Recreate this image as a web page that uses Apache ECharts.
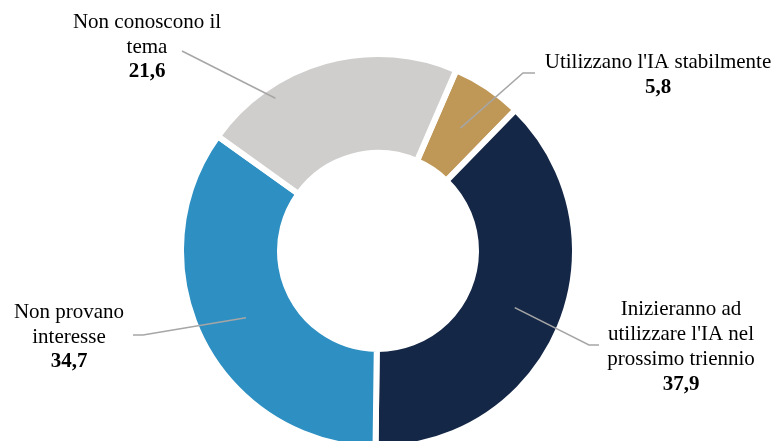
<!DOCTYPE html>
<html><head><meta charset="utf-8">
<script src="https://cdn.jsdelivr.net/npm/echarts@6/dist/echarts.min.js"></script>
<style>html,body{margin:0;padding:0;background:#fff}#c{width:776px;height:441px}</style>
</head><body><div id="c"></div>
<script>
// ---- data ----
const categories = ["Utilizzano l'IA stabilmente", "Inizieranno ad utilizzare l'IA nel prossimo triennio", "Non provano interesse", "Non conoscono il tema"];
const labelText = [["Utilizzano l'IA stabilmente"], ["Inizieranno ad", "utilizzare l'IA nel", "prossimo triennio"], ["Non provano", "interesse"], ["Non conoscono il", "tema"]];
const values = [5.8, 37.9, 34.7, 21.6];
const colors = ['#BF9858', '#152746', '#2D8FC2', '#CFCECC'];

// ---- layout ----
const CENTER = [378, 251];
const START = 66.6;
// label block centre, leader end offset from it, horizontal elbow, anchor radius & angle shift
const labelPlace = [
  {x: 658, y: 75, ex: -123, ey: -2, elbow: 12, ar: 148, ad: 0},
  {x: 681, y: 347, ex: -82, ey: -2, elbow: 10, ar: 148, ad: 0},
  {x: 69, y: 337, ex: 64, ey: -2, elbow: -10, ar: 148, ad: 0},
  {x: 147, y: 47, ex: 35, ey: 4, elbow: 0, ar: 184, ad: 18.4}
];

const total = values.reduce((a, b) => a + b, 0);
function anchorOf(i) {
  let cum = 0;
  for (let k = 0; k < i; k++) cum += values[k];
  const L = labelPlace[i];
  const deg = START - (cum + values[i] / 2) / total * 360 + L.ad;
  const rad = deg * Math.PI / 180;
  return [CENTER[0] + L.ar * Math.cos(rad), CENTER[1] - L.ar * Math.sin(rad)];
}

const pieData = categories.map((c, i) => ({name: c, value: values[i], itemStyle: {color: colors[i]}}));
const labelData = categories.map((c, i) => ({name: c, value: values[i]}));

const FONT = "'Liberation Serif', 'Times New Roman', serif";
const chart = echarts.init(document.getElementById('c'), null, {renderer: 'canvas'});
chart.setOption({
  animation: false,
  backgroundColor: '#ffffff',
  series: [
    {
      type: 'pie',
      z: 2,
      center: CENTER,
      radius: [98, 197],
      startAngle: START,
      clockwise: true,
      avoidLabelOverlap: false,
      silent: true,
      itemStyle: {borderColor: '#ffffff', borderWidth: 6},
      label: {show: false},
      labelLine: {show: false},
      emphasis: {disabled: true},
      data: pieData
    },
    {
      type: 'pie',
      z: 5,
      center: CENTER,
      radius: [0, 197],
      startAngle: START,
      clockwise: true,
      avoidLabelOverlap: false,
      silent: true,
      itemStyle: {color: 'rgba(0,0,0,0)', borderWidth: 0},
      emphasis: {disabled: true},
      label: {
        show: true,
        position: 'outside',
        color: '#000',
        fontFamily: FONT,
        fontSize: 21,
        formatter: p => labelText[p.dataIndex].map(s => '{n|' + s + '}').join('\n') + '\n{v|' + Number(p.value).toFixed(1).replace('.', ',') + '}',
        rich: {
          n: {fontFamily: FONT, fontSize: 21, lineHeight: 25, color: '#000', align: 'center'},
          v: {fontFamily: FONT, fontSize: 21, lineHeight: 25, color: '#000', fontWeight: 'bold', align: 'center'}
        }
      },
      labelLine: {show: true, length: 10, length2: 10, lineStyle: {color: '#A6A6A6', width: 1.5}},
      labelLayout: function (p) {
        const L = labelPlace[p.dataIndex];
        const a = anchorOf(p.dataIndex);
        const end = [L.x + L.ex, L.y + L.ey];
        const pts = L.elbow ? [a, [end[0] - L.elbow, end[1]], end] : [a, end];
        return {x: L.x, y: L.y, align: 'center', verticalAlign: 'middle', labelLinePoints: pts};
      },
      data: labelData
    }
  ]
});
</script>
</body></html>
